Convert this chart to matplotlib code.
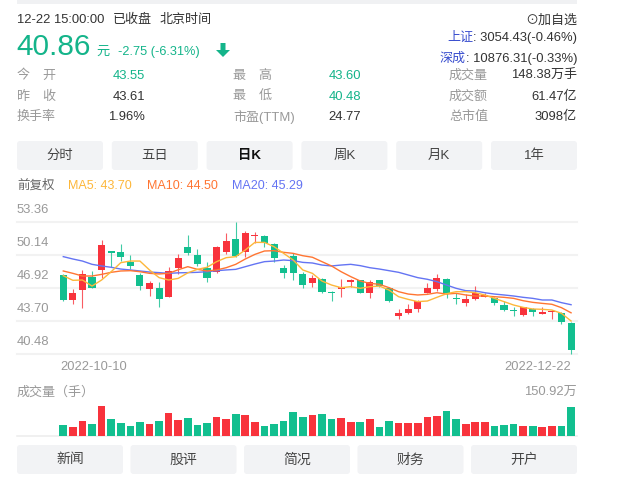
import matplotlib
matplotlib.use('Agg')
import matplotlib.pyplot as plt
from matplotlib.patches import FancyBboxPatch, FancyArrow, Rectangle

# daily candles 2022-10-10 .. 2022-12-22 (54 trading days)
opens = [48.19, 45.75, 46.72, 48.03, 48.68, 50.42, 50.40, 49.49, 48.19, 46.85,
         46.95, 46.07, 48.84, 50.89, 50.14, 48.84, 48.45, 50.47, 51.67, 50.40,
         51.98, 52.00, 51.18, 48.84, 50.04, 48.25, 47.37, 47.80, 46.56, 46.87,
         47.54, 47.70, 46.40, 47.70, 46.89, 44.22, 44.51, 44.87, 46.46, 46.82,
         47.80, 45.98, 45.49, 45.85, 46.07, 45.91, 45.26, 44.70, 44.28, 44.87,
         44.41, 44.55, 44.45, 43.55]
highs = [48.29, 46.82, 48.68, 48.58, 51.60, 50.45, 51.21, 50.14, 48.35, 47.60,
         47.47, 48.94, 50.24, 52.09, 50.69, 49.42, 51.05, 52.25, 53.36, 52.51,
         52.42, 52.09, 51.28, 49.16, 50.30, 48.45, 48.19, 47.86, 46.63, 47.80,
         47.80, 47.72, 47.70, 47.72, 47.05, 44.87, 45.36, 45.75, 47.44, 48.29,
         47.86, 46.40, 46.30, 47.11, 46.40, 46.01, 45.68, 45.10, 45.05, 45.00,
         45.10, 44.77, 44.55, 43.60]
lows = [45.68, 45.36, 45.00, 46.89, 47.93, 49.00, 49.59, 48.77, 46.72, 46.17,
        45.10, 46.01, 48.29, 50.14, 49.07, 47.54, 48.38, 50.20, 49.98, 49.98,
        51.28, 50.89, 49.49, 47.93, 47.70, 46.95, 47.05, 46.46, 45.68, 46.07,
        46.98, 46.40, 45.98, 47.05, 45.59, 43.89, 44.35, 44.61, 46.40, 46.66,
        45.98, 45.36, 45.16, 45.75, 46.01, 45.26, 44.67, 44.19, 44.19, 44.19,
        44.35, 43.89, 43.41, 40.48]
closes = [45.75, 46.40, 48.25, 46.95, 51.12, 50.38, 49.98, 49.07, 47.15, 47.44,
          45.81, 48.58, 49.81, 50.30, 49.23, 47.93, 50.89, 51.51, 50.07, 52.25,
          52.02, 51.28, 49.88, 48.35, 48.35, 47.21, 47.93, 46.56, 46.40, 46.90,
          47.70, 46.46, 47.54, 47.11, 45.68, 44.51, 44.87, 45.65, 46.95, 47.86,
          46.40, 45.85, 45.81, 46.40, 46.24, 45.42, 44.77, 44.64, 45.03, 44.61,
          44.45, 44.67, 43.61, 40.86]
# volume in 万手
volumes = [55.7, 45.6, 76.0, 60.8, 150.92, 86.1, 67.5, 50.6, 70.9, 62.5,
           76.0, 118.2, 81.0, 91.2, 55.7, 67.5, 96.2, 86.1, 111.4, 106.3,
           70.9, 50.6, 60.8, 76.0, 121.5, 96.2, 106.3, 111.4, 86.1, 91.2,
           70.9, 70.9, 86.1, 45.6, 76.0, 65.8, 65.8, 65.8, 96.2, 101.3,
           126.6, 86.1, 60.8, 70.9, 70.9, 50.6, 55.7, 60.8, 50.6, 50.6,
           45.6, 50.6, 50.6, 148.38]
ma5 = [48.12, 47.67, 47.70, 47.11, 47.70, 48.51, 49.39, 49.55, 49.55, 48.68,
       47.93, 47.70, 47.86, 48.40, 48.74, 48.94, 49.49, 49.88, 49.98, 50.63,
       51.37, 51.37, 50.95, 50.30, 49.65, 48.68, 48.35, 47.60, 47.21, 46.95,
       47.05, 46.89, 47.05, 47.11, 46.72, 46.07, 45.81, 45.59, 45.65, 46.01,
       46.36, 46.56, 46.56, 46.46, 46.24, 45.91, 45.59, 45.26, 45.03, 44.87,
       44.84, 44.77, 44.45, 43.70]
ma10 = [48.58, 48.35, 48.09, 48.09, 48.25, 48.45, 48.58, 48.61, 48.51, 48.35,
        48.29, 48.35, 48.70, 49.00, 48.74, 48.58, 48.68, 48.90, 49.23, 49.75,
        50.20, 50.53, 50.56, 50.40, 50.30, 50.07, 49.92, 49.49, 49.07, 48.51,
        48.03, 47.60, 47.37, 47.28, 46.95, 46.56, 46.33, 46.24, 46.30, 46.46,
        46.33, 46.40, 46.24, 46.14, 46.14, 46.07, 46.01, 45.91, 45.68, 45.52,
        45.42, 45.33, 45.00, 44.50]
ma20 = [49.98, 49.75, 49.55, 49.23, 49.07, 48.94, 48.77, 48.68, 48.58, 48.48,
        48.42, 48.35, 48.40, 48.42, 48.45, 48.51, 48.61, 48.68, 48.74, 49.00,
        49.26, 49.49, 49.55, 49.65, 49.59, 49.42, 49.36, 49.16, 49.07, 49.16,
        49.23, 49.10, 48.90, 48.77, 48.61, 48.45, 48.19, 47.93, 47.77, 47.54,
        47.21, 46.89, 46.66, 46.63, 46.46, 46.33, 46.24, 46.14, 46.01, 45.91,
        45.75, 45.75, 45.49, 45.29]

price_ticks = [53.36, 50.14, 46.92, 43.70, 40.48]
date_labels = ['2022-10-10', '2022-12-22']
vol_max_label = '150.92万'

info_labels = [['今　开', '昨　收', '换手率'],
               ['最　高', '最　低', '市盈(TTM)'],
               ['成交量', '成交额', '总市值']]
info_values = [['43.55', '43.61', '1.96%'],
               ['43.60', '40.48', '24.77'],
               ['148.38万手', '61.47亿', '3098亿']]
period_tabs = ['分时', '五日', '日K', '周K', '月K', '1年']
bottom_tabs = ['新闻', '股评', '简况', '财务', '开户']

W, H = 633, 478
RED = '#f8333c'
GREEN = '#12bf8f'
TXT_GREEN = '#14b48a'
DARK = '#333333'
GRAY = '#999999'
BTN = '#f2f3f5'
C_MA5 = '#fdb73a'
C_MA10 = '#ff7532'
C_MA20 = '#6474f3'
BLUE = '#3a4fcf'

plt.rcParams['font.family'] = ['Liberation Sans', 'Noto Sans CJK SC', 'DejaVu Sans']


def px_axes(fig, x0, y0, x1, y1):
    ax = fig.add_axes([x0 / W, 1 - y1 / H, (x1 - x0) / W, (y1 - y0) / H])
    ax.set_facecolor('none')
    ax.axis('off')
    return ax


def draw_header(ov):
    ov.add_patch(Rectangle((17, 0), 560, 3.5, color='#f0f1f3', lw=0))
    ov.text(17, 20, '12-22 15:00:00', fontsize=9.4, color=DARK, va='center')
    ov.text(113, 20, '已收盘', fontsize=9.4, color=DARK, va='center')
    ov.text(160, 20, '北京时间', fontsize=9.4, color=DARK, va='center')
    ov.text(16, 55, '40.86', fontsize=21.5, color=TXT_GREEN, va='baseline')
    ov.text(96, 55, '元', fontsize=9.5, color=TXT_GREEN, va='baseline')
    ov.text(118, 55, '-2.75 (-6.31%)', fontsize=9.2, color=TXT_GREEN, va='baseline')
    ov.add_patch(FancyArrow(223, 43, 0, 14, width=5, head_width=14, head_length=7,
                            length_includes_head=True, color=TXT_GREEN, lw=0))

    ov.text(577, 21, '⊙加自选', fontsize=9.4, color=DARK, ha='right', va='center')
    t1 = ov.text(577, 38, ': 3054.43(-0.46%)', fontsize=9.4, color=DARK, ha='right', va='center')
    ov.annotate('上证', xy=(0, 0.5), xycoords=t1, fontsize=9.4, color=BLUE, ha='right', va='center')
    t2 = ov.text(577, 59, ': 10876.31(-0.33%)', fontsize=9.4, color=DARK, ha='right', va='center')
    ov.annotate('深成', xy=(0, 0.5), xycoords=t2, fontsize=9.4, color=BLUE, ha='right', va='center')

    label_x = [17, 233, 449]
    value_x = [145, 361, 577]
    value_colors = [[TXT_GREEN, DARK, DARK], [TXT_GREEN, TXT_GREEN, DARK], [DARK, DARK, DARK]]
    rows_y = [76, 97, 117]
    for col in range(3):
        for row in range(3):
            ov.text(label_x[col], rows_y[row], info_labels[col][row], fontsize=9.4,
                    color=GRAY, va='center')
            ov.text(value_x[col], rows_y[row], info_values[col][row], fontsize=9.4,
                    color=value_colors[col][row], ha='right', va='center')


def draw_buttons(ov, labels, x_start, step, width, y0, h, fs, active=None):
    for k, lab in enumerate(labels):
        x0 = x_start + k * step
        ov.add_patch(FancyBboxPatch((x0 + 3, y0 + 3), width - 6, h - 6,
                                    boxstyle='round,pad=3', color=BTN, lw=0))
        bold = lab == active
        ov.text(x0 + width / 2, y0 + h / 2, lab, fontsize=fs,
                color='#111111' if bold else '#444444',
                fontweight='bold' if bold else 'normal', ha='center', va='center')


def draw_candles(ax):
    n = len(closes)
    for i in range(n):
        o, hi, lo, c = opens[i], highs[i], lows[i], closes[i]
        col = RED if c > o else GREEN
        ax.vlines(i, lo, hi, color=col, lw=0.8, alpha=0.8, zorder=3)
        ax.bar(i, max(abs(c - o), 0.12), bottom=min(o, c), width=0.74,
               color=col, lw=0, zorder=4)
    xs = list(range(n))
    ax.plot(xs, ma20, color=C_MA20, lw=1.0, zorder=5)
    ax.plot(xs, ma10, color=C_MA10, lw=1.0, zorder=5)
    ax.plot(xs, ma5, color=C_MA5, lw=1.0, zorder=6)


def main():
    fig = plt.figure(figsize=(W / 100, H / 100), dpi=100, facecolor='white')
    ov = fig.add_axes([0, 0, 1, 1])
    ov.set_xlim(0, W)
    ov.set_ylim(H, 0)
    ov.axis('off')

    draw_header(ov)
    draw_buttons(ov, period_tabs, 17, 94.8, 86, 141, 29, 9.6, active='日K')
    draw_buttons(ov, bottom_tabs, 17, 113.5, 106, 445, 29, 10)

    ov.text(17, 186, '前复权', fontsize=9, color='#666666', va='center')
    ov.text(68, 186, 'MA5: %.2f' % ma5[-1], fontsize=9, color=C_MA5, va='center')
    ov.text(147, 186, 'MA10: %.2f' % ma10[-1], fontsize=9, color=C_MA10, va='center')
    ov.text(232, 186, 'MA20: %.2f' % ma20[-1], fontsize=9, color=C_MA20, va='center')

    xlim = (-4.83, 53.62)

    # price panel
    ax = px_axes(fig, 17, 222, 577, 354)
    ax.set_xlim(*xlim)
    ax.set_ylim(price_ticks[-1], price_ticks[0])
    for v in price_ticks:
        ax.axhline(v, color='#f2f2f2', lw=1.5, zorder=0, clip_on=False)
        ax.annotate('%.2f' % v, xy=(0, v), xycoords=('axes fraction', 'data'),
                    xytext=(0, 12), textcoords='offset pixels', fontsize=9.4,
                    color=GRAY, ha='left', va='center', annotation_clip=False)
    draw_candles(ax)
    for a in ax.get_children():
        if hasattr(a, 'set_clip_on'):
            a.set_clip_on(False)
    ax.annotate(date_labels[0], xy=(0, price_ticks[-1]), xytext=(-3, -7),
                textcoords='offset pixels', fontsize=9.3, color=GRAY,
                ha='left', va='top', annotation_clip=False)
    ax.annotate(date_labels[1], xy=(len(closes) - 1, price_ticks[-1]), xytext=(0, -7),
                textcoords='offset pixels', fontsize=9.3, color=GRAY,
                ha='right', va='top', annotation_clip=False)

    # volume panel
    vax = px_axes(fig, 17, 406, 577, 436)
    vax.set_xlim(*xlim)
    vax.set_ylim(0, max(volumes))
    vcols = [RED if c > o else GREEN for o, c in zip(opens, closes)]
    vax.bar(range(len(volumes)), volumes, width=0.8, color=vcols, lw=0, zorder=3)
    vax.axhline(0, color='#eeeeee', lw=1.2, zorder=1, clip_on=False)
    ov.text(17, 393, '成交量（手）', fontsize=9.4, color=GRAY, va='center')
    ov.text(577, 393, vol_max_label, fontsize=9.4, color=GRAY, ha='right', va='center')

    fig.savefig('out.png', dpi=100, facecolor='white')


main()
